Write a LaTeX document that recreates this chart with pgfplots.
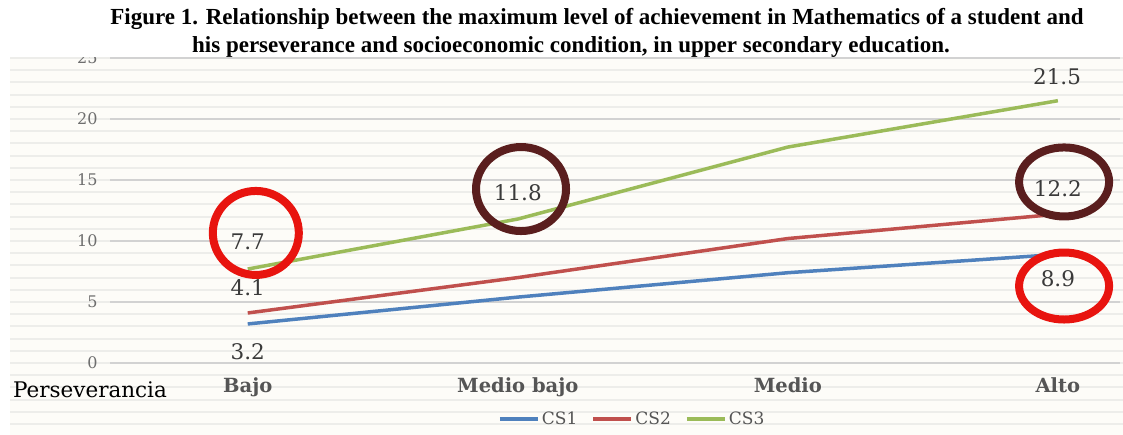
\documentclass[border=0pt]{standalone}
\usepackage{fontspec}
\setmainfont{Liberation Serif}
\newfontfamily\chartfont{DejaVu Serif}
\usepackage{pgfplots}
\pgfplotsset{compat=1.18}

\definecolor{csone}{HTML}{4F81BD}
\definecolor{cstwo}{HTML}{C0504D}
\definecolor{csthree}{HTML}{9BBB59}
\definecolor{ringred}{HTML}{E8140F}
\definecolor{ringbrown}{HTML}{5A1E1E}
\definecolor{paper}{HTML}{FDFCF8}
\definecolor{stripe}{HTML}{EDEDEA}
\definecolor{gridc}{HTML}{D2D2D2}
\definecolor{ticktext}{HTML}{6E6E6E}
\definecolor{cattext}{HTML}{555555}
\definecolor{valtext}{HTML}{3A3A3A}

\begin{document}
\begin{tikzpicture}[x=1pt,y=1pt]
\useasboundingbox (0,0) rectangle (1123,435);
\fill[white] (0,0) rectangle (1123,435);
% ruled paper behind the chart
\fill[paper] (10,0) rectangle (1123,378);
\foreach \k in {-5,...,25} {
  \draw[stripe, line width=2pt] (10,72+12.2*\k) -- (1123,72+12.2*\k);
}

\begin{axis}[
  at={(110pt,72pt)}, anchor=south west,
  scale only axis, width=1010pt, height=305pt,
  xmin=-0.51, xmax=3.23, ymin=0, ymax=25,
  clip=false,
  axis line style={draw=none},
  major tick length=0pt,
  ytick={0,5,10,15,20,25},
  yticklabels={0,5,10,15,20,25},
  yticklabel style={font=\chartfont\fontsize{16}{16}\selectfont, text=ticktext, anchor=east, xshift=-9pt},
  ymajorgrids,
  grid style={gridc, line width=1.3pt},
  xtick={0,1,2,3},
  xticklabels={Bajo, Medio bajo, Medio, Alto},
  xticklabel style={font=\chartfont\bfseries\fontsize{19.5}{19.5}\selectfont, text=cattext, anchor=base, yshift=-30pt},
  legend style={at={(0.517,-0.184)}, anchor=center, draw=none, fill=none,
    legend columns=3, font=\chartfont\fontsize{17}{17}\selectfont, text=cattext,
    /tikz/every even column/.append style={column sep=12pt},
    /tikz/every odd column/.append style={column sep=0pt}},
  legend image code/.code={\draw[#1, line width=4pt] (0pt,0pt) -- (38pt,0pt);},
]
\addplot[csone, line width=3.5pt] coordinates {(0,3.2) (1,5.4) (2,7.4) (3,8.9)};
\addlegendentry{CS1}
\addplot[cstwo, line width=3.5pt] coordinates {(0,4.1) (1,7.0) (2,10.2) (3,12.2)};
\addlegendentry{CS2}
\addplot[csthree, line width=3.5pt] coordinates {(0,7.7) (1,11.8) (2,17.7) (3,21.5)};
\addlegendentry{CS3}

% value labels
\begin{scope}[every node/.style={font=\chartfont\fontsize{21.5}{21.5}\selectfont, text=valtext}]
\node at (axis cs:2.997,23.5) {21.5};
\node at (axis cs:3.0,14.3) {12.2};
\node at (axis cs:3.0,6.9) {8.9};
\node at (axis cs:1.0,14.0) {11.8};
\node at (axis cs:0.0,9.9) {7.7};
\node at (axis cs:0.0,6.15) {4.1};
\node at (axis cs:0.0,0.9) {3.2};
\end{scope}

% highlight rings
\draw[ringred, line width=8pt] (axis cs:0.03,10.66) ellipse [x radius=43pt, y radius=42pt];
\draw[ringbrown, line width=8pt] (axis cs:1.012,14.26) ellipse [x radius=45pt, y radius=42pt];
\draw[ringbrown, line width=8pt] (axis cs:3.023,14.84) ellipse [x radius=45pt, y radius=34.5pt];
\draw[ringred, line width=8pt] (axis cs:3.023,6.31) ellipse [x radius=45pt, y radius=33.5pt];
\end{axis}

% title band
\fill[white] (0,378) rectangle (1123,435);
\node[anchor=base, font=\bfseries\fontsize{23}{23}\selectfont] at (597,410)
  {Figure 1. Relationship between the maximum level of achievement in Mathematics of a student and};
\node[anchor=base, font=\bfseries\fontsize{23}{23}\selectfont] at (571,382)
  {his perseverance and socioeconomic condition, in upper secondary education.};

\node[anchor=base, font=\chartfont\fontsize{21.5}{21.5}\selectfont] at (90,37) {Perseverancia};
\end{tikzpicture}
\end{document}
